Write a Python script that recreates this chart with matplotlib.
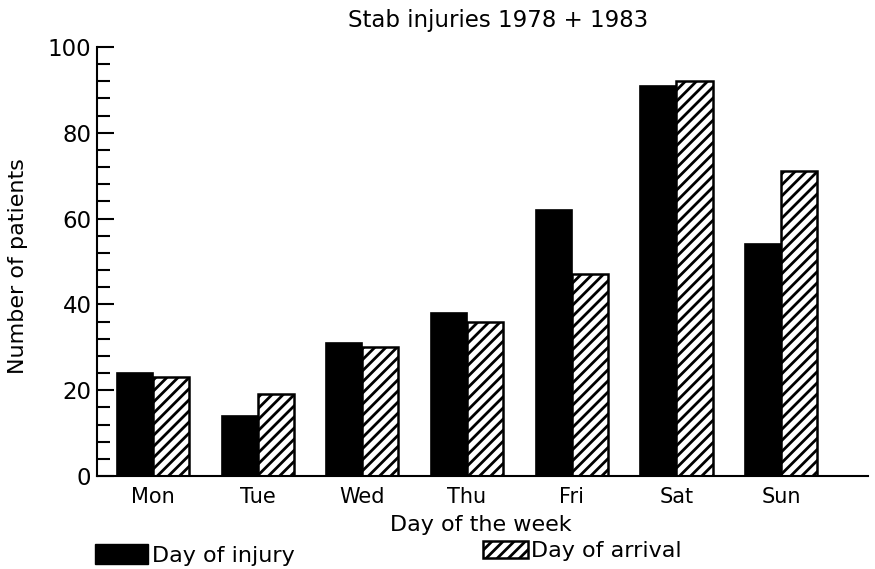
"""Stab injuries by day of the week."""
import matplotlib
matplotlib.use("Agg")
import matplotlib.pyplot as plt
import matplotlib.patches as mpatches
import numpy as np
from matplotlib.ticker import MultipleLocator

# Data
DAYS = ["Mon", "Tue", "Wed", "Thu", "Fri", "Sat", "Sun"]
INJURY = [24, 14, 31, 38, 62, 91, 54]
ARRIVAL = [23, 19, 30, 36, 47, 92, 71]

TITLE = "Stab injuries 1978 + 1983"
XLABEL = "Day of the week"
YLABEL = "Number of patients"
LEGEND_LABELS = ["Day of injury", "Day of arrival"]

plt.rcParams["hatch.linewidth"] = 2.0
plt.rcParams["font.family"] = ["DejaVu Sans"]

fig = plt.figure(figsize=(8.75, 5.69), dpi=100)
ax = fig.add_axes([97 / 875, 1 - 476 / 569, (868 - 97) / 875, (476 - 47) / 569])

x = np.arange(len(DAYS))
width = 0.345
ax.bar(x - width / 2, INJURY, width, color="black", edgecolor="black", lw=1.2)
ax.bar(x + width / 2, ARRIVAL, width, color="white", edgecolor="black",
       hatch="///", lw=1.8)

ax.set_xlim(-0.535, 6.83)
ax.set_ylim(0, 100)
ax.set_xticks(x)
ax.set_xticklabels(DAYS, fontsize=15)
ax.tick_params(axis="x", length=0, pad=8)
ax.yaxis.set_major_locator(MultipleLocator(20))
ax.yaxis.set_minor_locator(MultipleLocator(4))
ax.tick_params(axis="y", which="major", direction="in", length=12, width=1.5,
               labelsize=16.5, pad=4)
ax.tick_params(axis="y", which="minor", direction="in", length=9, width=1.5)
for s in ["top", "right"]:
    ax.spines[s].set_visible(False)
for s in ["left", "bottom"]:
    ax.spines[s].set_linewidth(1.5)

fig.text(498 / 875, 1 - 20 / 569, TITLE, ha="center", va="center", fontsize=16.5)
fig.text(481 / 875, 1 - 525 / 569, XLABEL, ha="center", va="center", fontsize=16)
fig.text(18 / 875, 1 - 266 / 569, YLABEL, ha="center", va="center",
         rotation=90, fontsize=16)

h1 = mpatches.Patch(facecolor="black", edgecolor="black")
h2 = mpatches.Patch(facecolor="white", edgecolor="black", hatch="///", lw=1.8)
leg1 = fig.legend([h1], [LEGEND_LABELS[0]], loc="center left",
                  bbox_to_anchor=(84 / 875, 1 - 555 / 569), frameon=False,
                  fontsize=16, handlelength=2.4, handleheight=1.0,
                  handletextpad=0.15, borderpad=0)
leg2 = fig.legend([h2], [LEGEND_LABELS[1]], loc="center left",
                  bbox_to_anchor=(472 / 875, 1 - 551 / 569), frameon=False,
                  fontsize=16, handlelength=2.0, handleheight=0.8,
                  handletextpad=0.15, borderpad=0)

fig.savefig("out.png", dpi=100)
